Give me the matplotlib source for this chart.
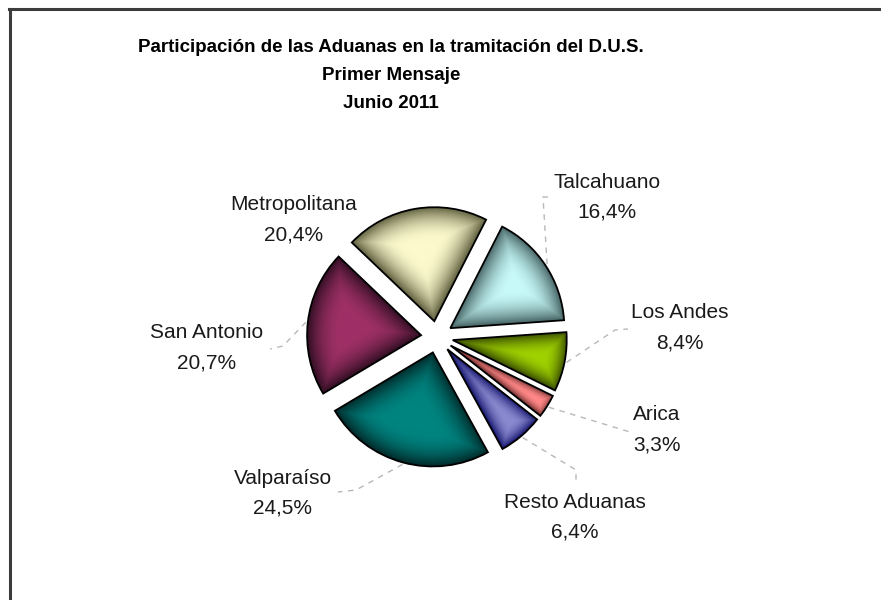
import numpy as np
import matplotlib
matplotlib.use("Agg")
import matplotlib.pyplot as plt
from matplotlib.lines import Line2D

# data
aduanas = ["Talcahuano", "Metropolitana", "San Antonio", "Valparaíso",
           "Resto Aduanas", "Arica", "Los Andes"]
participacion = [16.4, 20.4, 20.7, 24.5, 6.4, 3.3, 8.4]

titulo = ["Participación de las Aduanas en la tramitación del D.U.S.",
          "Primer Mensaje",
          "Junio 2011"]

# styles: (light, dark) colour per slice for the bevel shading
light = [(200, 250, 250), (252, 250, 205), (158, 48, 102), (0, 132, 128),
         (138, 138, 208), (255, 135, 135), (160, 210, 0)]
dark = [(70, 100, 100), (95, 95, 62), (48, 14, 34), (0, 42, 42),
        (20, 20, 110), (110, 45, 45), (55, 75, 0)]

# label layout in pixel coords (name centre); percent sits 30 px below
label_pos = [(607, 182), (294, 205), (207, 333), (283, 478),
             (575, 502), (657, 415), (680, 313)]
# leader line corner points (pixel coords), None = no leader
leaders = [[(543, 197), (549, 197)],
           None,
           [(283, 346), (270, 349)],
           [(356, 490), (338, 492)],
           [(576, 470), (576, 483)],
           [(630, 432)],
           [(615, 330), (628, 329)]]

W, H = 881, 600
fig = plt.figure(figsize=(W / 100, H / 100), dpi=100)
ax = fig.add_axes([0, 0, 1, 1])


def Y(y):
    return H - y


cx, cy, R = 437, Y(337), 114
wedges, _ = ax.pie(participacion, startangle=4, counterclock=True,
                   explode=[16] * len(participacion), radius=R,
                   center=(cx, cy), normalize=True)

# bevel-like shading inside every wedge
for w, lc, dc in zip(wedges, light, dark):
    wx, wy = w.center
    r = w.r
    t1, t2 = np.deg2rad(w.theta1), np.deg2rad(w.theta2)
    xs = np.arange(wx - r - 2, wx + r + 2, 0.5)
    ys = np.arange(wy - r - 2, wy + r + 2, 0.5)
    X, Yg = np.meshgrid(xs, ys)
    dx, dy = X - wx, Yg - wy
    d_arc = r - np.hypot(dx, dy)
    d1 = np.cos(t1) * dy - np.sin(t1) * dx
    d2 = np.sin(t2) * dx - np.cos(t2) * dy
    d = np.clip(np.minimum(np.minimum(d_arc, d1), d2), 0, None)
    bw = min(34, d.max() * 0.95)
    f = np.clip(d / bw, 0, 1)
    f = 1 - (1 - f) ** 2
    lc_, dc_ = np.array(lc) / 255, np.array(dc) / 255
    img = dc_ + (lc_ - dc_) * f[..., None]
    im = ax.imshow(img, extent=[xs[0], xs[-1], ys[0], ys[-1]],
                   origin="lower", interpolation="bilinear", zorder=1)
    im.set_clip_path(w)
    w.set_facecolor("none")
    w.set_edgecolor("black")
    w.set_linewidth(1.3)
    w.set_zorder(2)

# labels and leader lines
for w, name, val, (lx, ly), lead in zip(wedges, aduanas, participacion,
                                        label_pos, leaders):
    ax.text(lx, Y(ly), name, ha="center", va="center", fontsize=15,
            color="#1a1a1a", family="Liberation Sans")
    ax.text(lx, Y(ly + 30), f"{val:.1f}%".replace(".", ","), ha="center",
            va="center", fontsize=15, color="#1a1a1a",
            family="Liberation Sans")
    if lead is None:
        continue
    tm = np.deg2rad((w.theta1 + w.theta2) / 2)
    ax0 = w.center[0] + (w.r + 2) * np.cos(tm)
    ay0 = w.center[1] + (w.r + 2) * np.sin(tm)
    px = [ax0] + [p[0] for p in lead]
    py = [ay0] + [Y(p[1]) for p in lead]
    ax.plot(px, py, color="#b8b8b8", lw=1, ls=(0, (4, 4)), zorder=0)

# title
for i, line in enumerate(titulo):
    ax.text(391, Y(47 + 28 * i), line, ha="center", va="center",
            fontsize=13.5, fontweight="bold",
            family=["Liberation Sans Narrow", "Liberation Sans"])

ax.set_xlim(0, W)
ax.set_ylim(0, H)
ax.set_aspect("auto")
ax.axis("off")

# chart frame (only top and left edges fall inside the picture)
fig.add_artist(Line2D([9.5 / W, 9.5 / W], [0, 1 - 9 / H], color="#3c3c3c",
                      lw=2.2, transform=fig.transFigure))
fig.add_artist(Line2D([8.5 / W, 1], [1 - 9 / H, 1 - 9 / H], color="#3c3c3c",
                      lw=2.2, transform=fig.transFigure))

fig.savefig("out.png", dpi=100, facecolor="white")
